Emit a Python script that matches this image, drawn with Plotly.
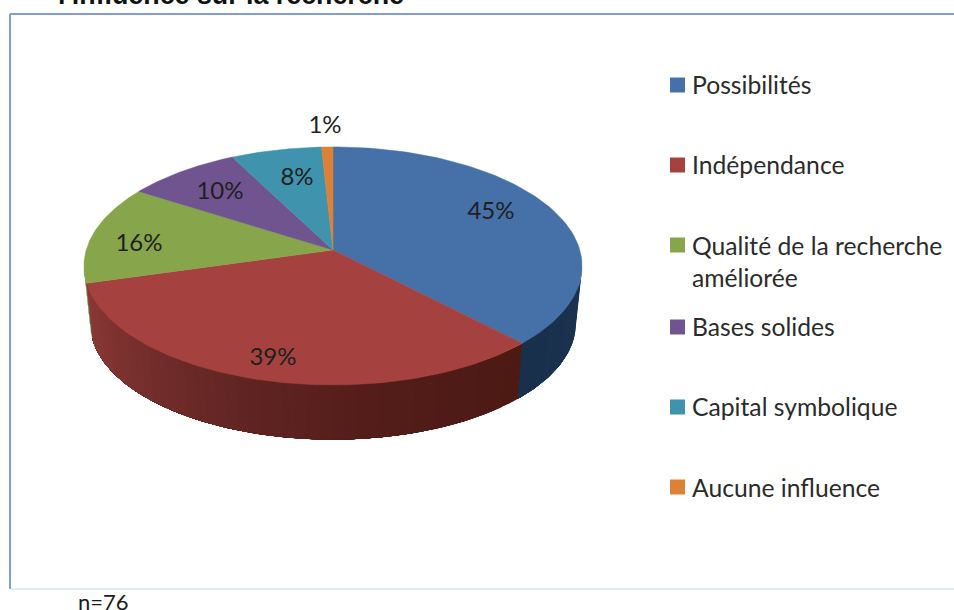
import numpy as np
import plotly.graph_objects as go

# Data
categories = ["Possibilités", "Indépendance", "Qualité de la recherche<br>améliorée",
              "Bases solides", "Capital symbolique", "Aucune influence"]
percent_values = [45, 39, 16, 10, 8, 1]
percent_labels = ["45%", "39%", "16%", "10%", "8%", "1%"]
title_text = "<b>l'influence sur la recherche</b>"
note_text = "n=76"

# Styles
top_colors = ["#4571a8", "#a5423f", "#87a54b", "#70548f", "#3f93ad", "#dc8136"]
wall_stops = {0: [(0.0, (27, 52, 82)), (1.0, (25, 48, 76))],
              1: [(0.0, (76, 26, 19)), (0.3, (84, 29, 26)), (0.55, (98, 38, 36)),
                  (0.8, (122, 49, 47)), (1.0, (142, 57, 55))],
              2: [(0.0, (100, 125, 60)), (1.0, (100, 125, 60))]}
label_pos = [(491, 213), (273, 359), (139, 245), (220, 193), (297, 179), (325, 127)]
legend_y = [85, 165, 245, 327, 407, 487]
legend_text_y = [84, 164, 261, 326, 406, 487]

# Perspective projection of the pie disc, in page pixels
CX, CY = 333.0, 250.0
A, B, K = 116.9, 246.8, 0.134
RIM_SCALE, RIM_Y = 0.975, 308.0


def top_xy(theta):
    u, v = np.sin(theta), np.cos(theta)
    d = 1 + K * v
    return CX + B * u / d, CY - A * v / d


def rim_xy(theta):
    u, v = np.sin(theta), np.cos(theta)
    d = 1 + K * v
    return CX + RIM_SCALE * B * u / d, RIM_Y - RIM_SCALE * A * v / d


shares = np.array(percent_values, dtype=float) / sum(percent_values)
edges = np.concatenate([[0.0], np.cumsum(shares)]) * 2 * np.pi

fig = go.Figure()
silhouette_r = np.arccos(-K)
silhouette_l = 2 * np.pi - silhouette_r


def mix(stops, t):
    for (t0, c0), (t1, c1) in zip(stops, stops[1:]):
        if t <= t1:
            f = (t - t0) / (t1 - t0)
            return "rgb(%d,%d,%d)" % tuple(c0[i] + f * (c1[i] - c0[i]) for i in range(3))
    return "rgb(%d,%d,%d)" % stops[-1][1]


# Side wall, painted as overlapping strips to give the shaded look without seams
for i, n in ((0, 12), (1, 48), (2, 4)):
    a0 = max(edges[i], silhouette_r)
    a1 = min(edges[i + 1], silhouette_l)
    cuts = np.linspace(a0, a1, n + 1)
    for j in range(n):
        # each strip runs on to the end of its slice; the next one paints over it
        th = np.linspace(cuts[j], a1, 2 + 3 * (n - j))
        tx, ty = top_xy(th)
        bx, by = rim_xy(th[::-1])
        col = mix(wall_stops[i], (j + 0.5) / n)
        fig.add_trace(go.Scatter(x=np.r_[tx, bx, tx[0]], y=np.r_[ty, by, ty[0]],
                                 mode="lines", fill="toself", fillcolor=col,
                                 line=dict(width=0), hoverinfo="skip",
                                 showlegend=False))

# Top face slices
for i, cat in enumerate(categories):
    th = np.linspace(edges[i], edges[i + 1], 90)
    x, y = top_xy(th)
    fig.add_trace(go.Scatter(x=np.r_[CX, x, CX], y=np.r_[CY, y, CY], mode="lines",
                             fill="toself", fillcolor=top_colors[i],
                             line=dict(color=top_colors[i], width=0.5),
                             name=cat.replace("<br>", " "), hoverinfo="name",
                             showlegend=False))

# Percent labels
fig.add_trace(go.Scatter(x=[p[0] for p in label_pos], y=[p[1] for p in label_pos],
                         mode="text", text=percent_labels, textposition="middle center",
                         textfont=dict(family="Lato", size=24, color="#1f1f1f"),
                         hoverinfo="skip", showlegend=False))

# Legend
fig.add_trace(go.Scatter(x=[677.5] * 6, y=legend_y, mode="markers",
                         marker=dict(symbol="square", size=15, color=top_colors, line=dict(width=0)),
                         hoverinfo="skip", showlegend=False))
for cat, y in zip(categories, legend_text_y):
    fig.add_annotation(x=690, y=y, xref="x", yref="y", text=cat, showarrow=False,
                       xanchor="left", yanchor="middle", align="left",
                       font=dict(family="Lato", size=24.7, color="#2b2b2b"))

# Frame
fig.add_shape(type="line", x0=10, x1=10, y0=14, y1=589, line=dict(color="#7f9fd2", width=2))
fig.add_shape(type="line", x0=10, x1=954, y0=14, y1=14, line=dict(color="#7f9fd2", width=2))
fig.add_shape(type="line", x0=10, x1=954, y0=589, y1=589, line=dict(color="#c8d8e6", width=1))

# Texts cut by the page edges
fig.add_annotation(x=56 / 954, y=1, xref="paper", yref="paper", xanchor="left", yanchor="middle",
                   yshift=5, text=title_text, showarrow=False,
                   font=dict(family="Liberation Sans", size=26.8, color="#111111"))
fig.add_annotation(x=76 / 954, y=0, xref="paper", yref="paper", xanchor="left", yanchor="bottom",
                   yshift=-7, text=note_text, showarrow=False,
                   font=dict(family="Lato", size=22, color="#1a1a1a"))

fig.update_xaxes(range=[0, 954], visible=False, fixedrange=True)
fig.update_yaxes(range=[610, 0], visible=False, fixedrange=True)
fig.update_layout(width=954, height=610, margin=dict(l=0, r=0, t=0, b=0),
                  paper_bgcolor="white", plot_bgcolor="white", showlegend=False)
fig.write_html("out.html", config={"displayModeBar": False},
               post_script="document.body.style.margin='0';document.body.style.overflow='hidden';")
